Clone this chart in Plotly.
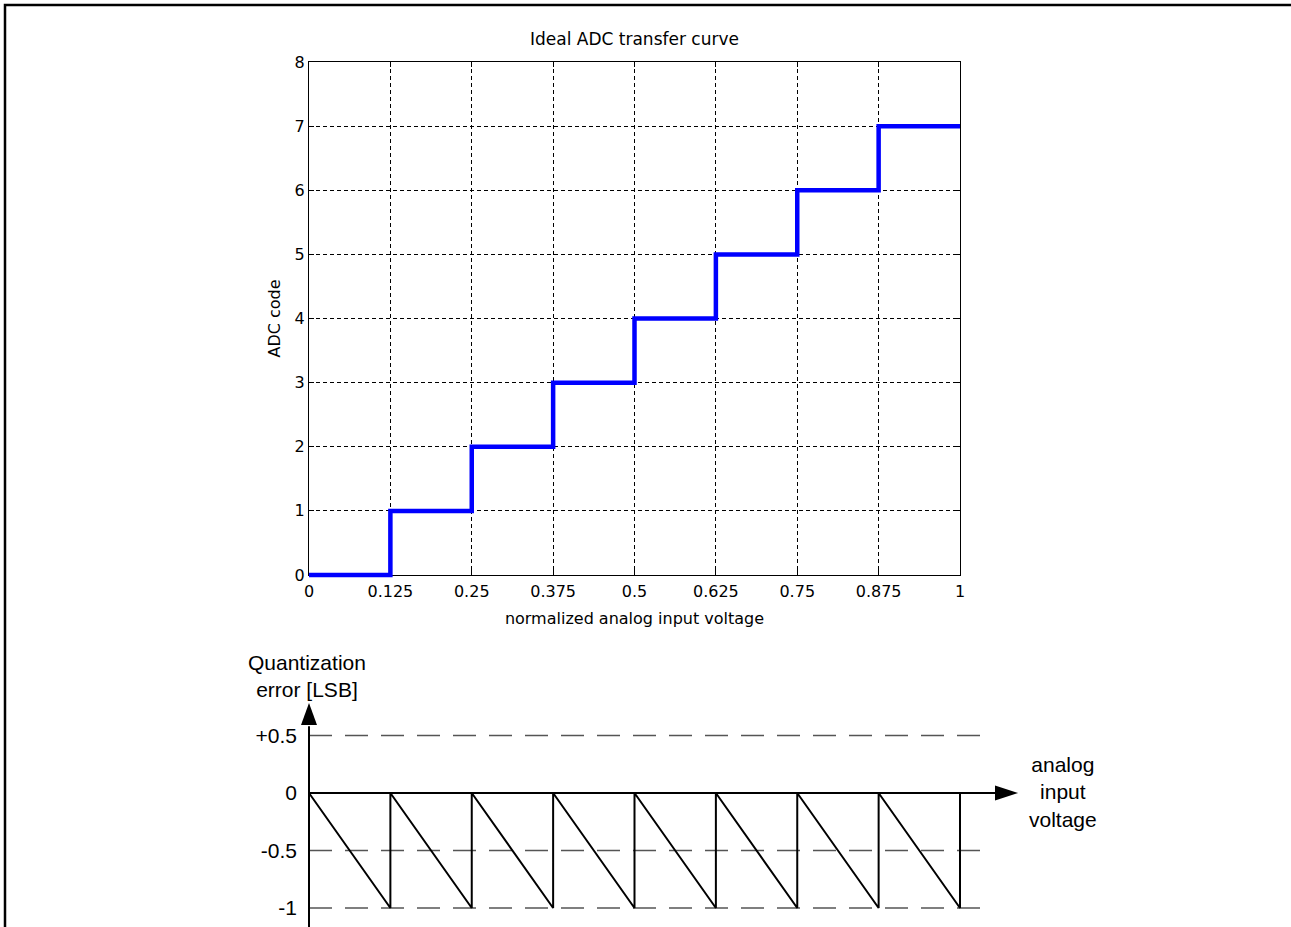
import plotly.graph_objects as go

W, H = 1291, 927

# ---------------- data ----------------
# ideal ADC transfer curve (3-bit)
thresholds = [0, 0.125, 0.25, 0.375, 0.5, 0.625, 0.75, 0.875, 1.0]
codes = [0, 1, 2, 3, 4, 5, 6, 7, 7]
x_tickvals = [0, 0.125, 0.25, 0.375, 0.5, 0.625, 0.75, 0.875, 1]
x_ticktext = ["0", "0.125", "0.25", "0.375", "0.5", "0.625", "0.75", "0.875", "1"]
y_tickvals = [0, 1, 2, 3, 4, 5, 6, 7, 8]

# quantization error sawtooth (LSB)
err_x = [0, 0.125, 0.125, 0.25, 0.25, 0.375, 0.375, 0.5, 0.5, 0.625, 0.625,
         0.75, 0.75, 0.875, 0.875, 1.0, 1.0]
err_y = [0, -1, 0, -1, 0, -1, 0, -1, 0, -1, 0, -1, 0, -1, 0, -1, 0]
err_tickvals = [0.5, 0, -0.5, -1]
err_ticktext = ["+0.5", "0", "-0.5", "-1"]
err_levels = [0.5, -0.5, -1]

# ---------------- helpers ----------------
def px(p):
    return p / W


def py(p):
    return 1 - p / H


TOP_FONT = "DejaVu Sans"
BOT_FONT = "Liberation Sans, Arial, sans-serif"

# top axes box in pixels
L, R, T, B = 309, 960, 62, 575
xs = (R - L) / 1.0
ys = (B - T) / 8.0
E = 4  # extension for unclipped overlay

# bottom axes mapping
bx0 = 309.0          # x=0
bxs = 651.0          # px per unit
by0 = 793.0          # y=0
bys = 115.0          # px per unit
b_top, b_bot = 640, 927
bx_min, bx_max = -0.1, 1.25

fig = go.Figure()

# invisible trace so that the framed top axes are created
fig.add_trace(go.Scatter(
    x=thresholds, y=codes, mode="lines", line=dict(color="#0000FF", width=1, shape="hv"),
    opacity=0, xaxis="x", yaxis="y", showlegend=False, hoverinfo="skip"))

fig.add_trace(go.Scatter(
    x=thresholds, y=codes, mode="lines", line=dict(color="#0000FF", width=4.5, shape="hv"),
    xaxis="x3", yaxis="y3", showlegend=False, hoverinfo="skip"))

fig.add_trace(go.Scatter(
    x=err_x, y=err_y, mode="lines", line=dict(color="black", width=2),
    xaxis="x2", yaxis="y2", showlegend=False, hoverinfo="skip"))

axis_common = dict(
    showline=True, linecolor="black", linewidth=1, mirror="ticks",
    ticks="inside", ticklen=5, tickcolor="black", tickwidth=1,
    showgrid=True, gridcolor="black", gridwidth=1, griddash="4px,3px",
    zeroline=False, automargin=False,
    tickfont=dict(family=TOP_FONT, size=16, color="black"),
)

shapes = []
# bottom dashed reference levels
for lvl in err_levels:
    shapes.append(dict(type="line", xref="x2", yref="y2", x0=0, x1=1.031, y0=lvl, y1=lvl,
                       line=dict(color="#555555", width=1.6, dash="23px,13px"), layer="below"))
# axes lines of the schematic
shapes.append(dict(type="line", xref="x2", yref="y2", x0=0, x1=0, y0=-1.3, y1=0.58,
                   line=dict(color="black", width=2)))
shapes.append(dict(type="line", xref="x2", yref="y2", x0=0, x1=1.06, y0=0, y1=0,
                   line=dict(color="black", width=2)))
# arrowheads
shapes.append(dict(type="path", xref="x2", yref="y2", xsizemode="pixel", ysizemode="pixel",
                   xanchor=(1018 - bx0) / bxs, yanchor=0,
                   path="M0,0 L-23,-7.5 L-23,7.5 Z", fillcolor="black", line=dict(width=0)))
shapes.append(dict(type="path", xref="x2", yref="y2", xsizemode="pixel", ysizemode="pixel",
                   xanchor=0, yanchor=(by0 - 703) / bys,
                   path="M0,0 L-8,-22 L8,-22 Z", fillcolor="black", line=dict(width=0)))
# outer frame
shapes.append(dict(type="rect", xref="paper", yref="paper", x0=px(5), x1=1.05, y0=-0.05, y1=py(5),
                   line=dict(color="black", width=2.5), fillcolor="rgba(0,0,0,0)"))

fig.update_layout(
    width=W, height=H, autosize=False,
    margin=dict(l=0, r=0, t=0, b=0, autoexpand=False),
    paper_bgcolor="white", plot_bgcolor="rgba(0,0,0,0)",
    title=dict(text="Ideal ADC transfer curve", x=px((L + R) / 2), y=py(39),
               xref="paper", yref="paper", xanchor="center", yanchor="middle",
               font=dict(family=TOP_FONT, size=17, color="black")),
    xaxis=dict(domain=[px(L), px(R)], range=[0, 1], anchor="y",
               tickvals=x_tickvals, ticktext=x_ticktext, ticklabelstandoff=2,
               title=dict(text="normalized analog input voltage", standoff=12,
                          font=dict(family=TOP_FONT, size=16, color="black")),
               **axis_common),
    yaxis=dict(domain=[py(B), py(T)], range=[0, 8], anchor="x",
               tickvals=y_tickvals,
               title=dict(text="ADC code", standoff=10,
                          font=dict(family=TOP_FONT, size=16, color="black")),
               **axis_common),
    xaxis3=dict(domain=[px(L - E), px(R + E)], range=[-E / xs, 1 + E / xs], anchor="y3",
                visible=False, fixedrange=True, automargin=False),
    yaxis3=dict(domain=[py(B + E), py(T - E)], range=[-E / ys, 8 + E / ys], anchor="x3",
                visible=False, fixedrange=True, automargin=False),
    xaxis2=dict(domain=[px(bx0 + bx_min * bxs), px(bx0 + bx_max * bxs)], range=[bx_min, bx_max],
                anchor="y2", visible=False, fixedrange=True, automargin=False),
    yaxis2=dict(domain=[0, py(b_top)],
                range=[(by0 - b_bot) / bys, (by0 - b_top) / bys],
                anchor="free", position=px(bx0), showline=False, ticks="",
                tickvals=err_tickvals, ticktext=err_ticktext, ticklabelstandoff=12,
                showgrid=False, zeroline=False, fixedrange=True, automargin=False,
                tickfont=dict(family=BOT_FONT, size=21, color="black")),
    shapes=shapes,
    annotations=[
        dict(text="Quantization<br>error [LSB]", x=px(307), y=py(676), xref="paper", yref="paper",
             xanchor="center", yanchor="middle", showarrow=False,
             font=dict(family=BOT_FONT, size=21, color="black")),
        dict(text="analog<br>input<br>voltage", x=px(1063), y=py(792), xref="paper", yref="paper",
             xanchor="center", yanchor="middle", showarrow=False,
             font=dict(family=BOT_FONT, size=21, color="black")),
    ],
)

fig.write_html("out.html")
